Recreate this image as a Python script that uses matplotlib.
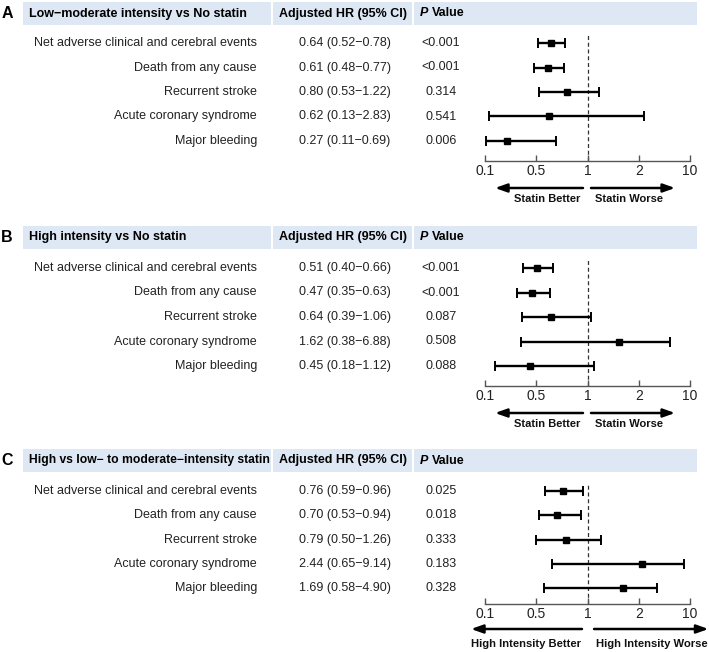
import numpy as np
import matplotlib
matplotlib.use("Agg")
import matplotlib.pyplot as plt
from matplotlib.patches import Rectangle
from matplotlib.lines import Line2D
from matplotlib.scale import FuncScale
from matplotlib.transforms import blended_transform_factory

plt.rcParams['font.family'] = ['Liberation Sans', 'DejaVu Sans']

# ---------------- data ----------------
outcomes = ["Net adverse clinical and cerebral events", "Death from any cause",
            "Recurrent stroke", "Acute coronary syndrome", "Major bleeding"]

titles = ["Low\u2212moderate intensity vs No statin",
          "High intensity vs No statin",
          "High vs low\u2212 to moderate\u2212intensity statin"]
panel_letters = ["A", "B", "C"]

hr_a = [0.64, 0.61, 0.80, 0.62, 0.27]
lo_a = [0.52, 0.48, 0.53, 0.13, 0.11]
hi_a = [0.78, 0.77, 1.22, 2.83, 0.69]
p_a = ["<0.001", "<0.001", "0.314", "0.541", "0.006"]

hr_b = [0.51, 0.47, 0.64, 1.62, 0.45]
lo_b = [0.40, 0.35, 0.39, 0.38, 0.18]
hi_b = [0.66, 0.63, 1.06, 6.88, 1.12]
p_b = ["<0.001", "<0.001", "0.087", "0.508", "0.088"]

hr_c = [0.76, 0.70, 0.79, 2.44, 1.69]
lo_c = [0.59, 0.53, 0.50, 0.65, 0.58]
hi_c = [0.96, 0.94, 1.26, 9.14, 4.90]
p_c = ["0.025", "0.018", "0.333", "0.183", "0.328"]

better_labels = ["Statin Better", "Statin Better", "High Intensity Better"]
worse_labels = ["Statin Worse", "Statin Worse", "High Intensity Worse"]

tick_values = [0.1, 0.5, 1, 2, 10]
tick_labels = ["0.1", "0.5", "1", "2", "10"]

# ---------------- layout ----------------
W, H = 709, 652
fig = plt.figure(figsize=(W / 100, H / 100), dpi=100)

def fx(x):
    return x / W

def fy(y):
    return 1 - y / H

tick_pos = np.arange(len(tick_values), dtype=float)

def fwd(x):
    return np.interp(np.asarray(x, dtype=float), tick_values, tick_pos)

def inv(y):
    return np.interp(np.asarray(y, dtype=float), tick_pos, tick_values)

band_color = "#dde8f4"
panels = [
    dict(hr=hr_a, lo=lo_a, hi=hi_a, p=p_a, band=(2, 25), row0=43, dy=24.5, axis=161,
         arrow_y=188, text_y=199, left=(0.478, 0.049), right=(0.517, 0.927),
         tb=0.463, tw=0.537, fs=8, tfs=9),
    dict(hr=hr_b, lo=lo_b, hi=hi_b, p=p_b, band=(226, 249), row0=268, dy=24.5, axis=386,
         arrow_y=413, text_y=424, left=(0.478, 0.049), right=(0.517, 0.927),
         tb=0.463, tw=0.537, fs=8, tfs=9),
    dict(hr=hr_c, lo=lo_c, hi=hi_c, p=p_c, band=(449, 472), row0=491, dy=24.3, axis=604,
         arrow_y=629, text_y=644, left=(0.473, -0.068), right=(0.532, 1.09),
         tb=0.469, tw=0.542, fs=8.1, tfs=8.75),
]

ax_left, ax_right = 485, 690

for i, P in enumerate(panels):
    n = len(outcomes)
    top = P['row0'] - 8
    bottom = P['axis']
    ax = fig.add_axes([fx(ax_left), fy(bottom), fx(ax_right - ax_left), (bottom - top) / H])
    ax.set_xscale(FuncScale(ax, (fwd, inv)))
    ax.set_xlim(0.1, 10)
    y_top = -(P['row0'] - top) / P['dy']
    y_bot = (bottom - P['row0']) / P['dy']
    ax.set_ylim(y_bot, y_top)
    ax.patch.set_visible(False)

    ypos = np.arange(n)
    hr = np.array(P['hr']); lo = np.array(P['lo']); hi = np.array(P['hi'])
    ax.axvline(1, ls=(0, (3.2, 2.2)), lw=0.9, color='#333333', zorder=1)
    eb = ax.errorbar(hr, ypos, xerr=[hr - lo, hi - hr], fmt='s', ms=4.5,
                     color='black', ecolor='black', elinewidth=1.7,
                     capsize=3.3, capthick=1.4, zorder=3)
    for art in eb.lines[1] + eb.lines[2]:
        art.set_clip_on(False)
    eb.lines[0].set_clip_on(False)

    for s in ['top', 'left', 'right']:
        ax.spines[s].set_visible(False)
    ax.spines['bottom'].set_color('#555555')
    ax.spines['bottom'].set_linewidth(1.0)
    ax.set_yticks([])
    ax.set_xticks(tick_values)
    ax.set_xticklabels(tick_labels)
    ax.xaxis.set_minor_locator(matplotlib.ticker.NullLocator())
    ax.tick_params(axis='x', direction='in', length=4, width=1.0, color='#555555',
                   labelsize=10, labelcolor='#222222', pad=2.5)

    # arrows
    bl = blended_transform_factory(ax.transAxes, fig.transFigure)
    ay = fy(P['arrow_y'])
    for (x0, x1) in [P['left'], P['right']]:
        ax.annotate("", xy=(x1, ay), xytext=(x0, ay), xycoords=bl, textcoords=bl,
                    annotation_clip=False,
                    arrowprops=dict(arrowstyle='-|>,head_length=0.7,head_width=0.25',
                                    lw=1.8, color='black', shrinkA=0, shrinkB=0,
                                    mutation_scale=10))
    ty = fy(P['text_y'])
    ax.text(P['tb'], ty, better_labels[i], transform=bl, ha='right', va='center',
            fontsize=P['fs'], fontweight='bold', color='#111111')
    ax.text(P['tw'], ty, worse_labels[i], transform=bl, ha='left', va='center',
            fontsize=P['fs'], fontweight='bold', color='#111111')

    # header band
    b0, b1 = P['band']
    fig.add_artist(Rectangle((fx(23), fy(b1)), fx(697 - 23), (b1 - b0) / H,
                             transform=fig.transFigure, facecolor=band_color,
                             edgecolor='none', zorder=0))
    for sx in [272, 413]:
        fig.add_artist(Line2D([fx(sx), fx(sx)], [fy(b1), fy(b0)],
                              transform=fig.transFigure, color='white', lw=1.5))
    hc = fy((b0 + b1) / 2)
    fig.text(fx(7), hc, panel_letters[i], ha='center', va='center', fontsize=11.5,
             fontweight='bold')
    fig.text(fx(29), hc, titles[i], ha='left', va='center', fontsize=P['tfs'],
             fontweight='bold')
    fig.text(fx(279), hc, "Adjusted HR (95% CI)", ha='left', va='center', fontsize=9,
             fontweight='bold')
    fig.text(fx(420), hc, "P", ha='left', va='center', fontsize=9, fontweight='bold',
             style='italic')
    fig.text(fx(431.5), hc, "Value", ha='left', va='center', fontsize=9, fontweight='bold')

    # table text
    tr = blended_transform_factory(fig.transFigure, ax.transData)
    for k in range(n):
        ax.text(fx(257), ypos[k], outcomes[k], transform=tr, ha='right', va='center',
                fontsize=9, color='#222222')
        ax.text(fx(345), ypos[k], f"{hr[k]:.2f} ({lo[k]:.2f}\u2212{hi[k]:.2f})",
                transform=tr, ha='center', va='center', fontsize=9, color='#222222')
        ax.text(fx(441), ypos[k], P['p'][k], transform=tr, ha='center', va='center',
                fontsize=9, color='#222222')

fig.savefig("out.png", dpi=100, facecolor='white')
